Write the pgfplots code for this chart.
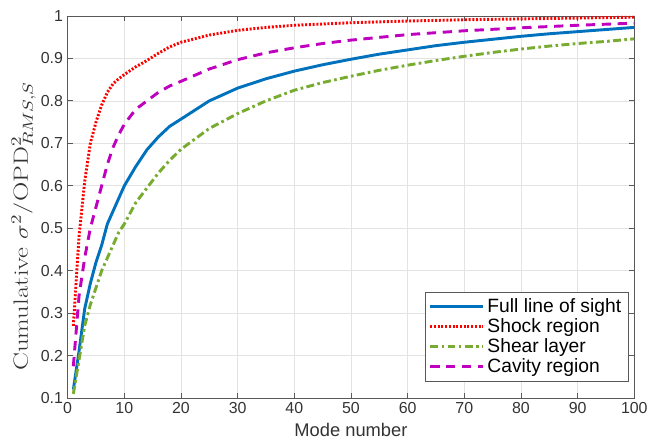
\documentclass[border=0pt]{standalone}
\usepackage{pgfplots}
\pgfplotsset{compat=1.18}
\usepackage{fontspec}
\setmainfont{Liberation Sans}
\newfontfamily\lmserif{Latin Modern Roman}

\definecolor{mblue}{RGB}{0,114,189}
\definecolor{mred}{RGB}{255,0,0}
\definecolor{mgreen}{RGB}{119,172,48}
\definecolor{mmag}{RGB}{191,0,191}

\begin{document}
\begin{tikzpicture}
\begin{axis}[
    scale only axis,
    width=427pt, height=288pt,
    xmin=0, xmax=100, ymin=0.1, ymax=1,
    xtick={0,10,...,100},
    ytick={0.1,0.2,...,1.0},
    yticklabels={0.1,0.2,0.3,0.4,0.5,0.6,0.7,0.8,0.9,1},
    grid=major,
    major grid style={line width=.5pt, draw=gray!22},
    axis line style={draw=black!65, line width=0.6pt},
    tick style={draw=black!65, line width=0.6pt},
    tick align=inside,
    major tick length=4pt,
    /pgf/number format/assume math mode=true,
    tick label style={text=black!80, font=\fontsize{12}{14}\selectfont},
    xlabel={Mode number},
    ylabel={\scalebox{1.3}[1.0]{\lmserif Cumulative $\sigma^2/$OPD$^2_{RMS,S}$}},
    xlabel style={text=black!80, font=\fontsize{13.8}{16}\selectfont, yshift=0pt},
    ylabel style={at={(ticklabel cs:0.45)}, font=\fontsize{15.5}{17}\selectfont, yshift=-3pt, text=black!80},
    legend style={at={(0.989,0.044)}, anchor=south east, draw=black!65,
        font=\fontsize{14.5}{16}\selectfont, row sep=-1pt, inner sep=3pt},
    legend cell align=left,
    legend image code/.code={\draw[#1] (0pt,0pt) -- (40pt,0pt);},
]
\addplot[mblue, line width=2.2pt] coordinates {
 (1,0.12) (2,0.21) (3,0.31) (4,0.37) (5,0.42) (6,0.46) (7,0.51) (8,0.54) (9,0.57) (10,0.60)
 (12,0.645) (14,0.685) (16,0.715) (18,0.74) (20,0.757) (25,0.80) (30,0.83) (35,0.852)
 (40,0.87) (45,0.885) (50,0.898) (55,0.91) (60,0.92) (65,0.93) (70,0.938) (75,0.945)
 (80,0.952) (85,0.958) (90,0.963) (95,0.968) (100,0.973)
};
\addlegendentry{Full line of sight}
\addplot[mred, line width=2.2pt, dash pattern=on 1.5pt off 1.3pt] coordinates {
 (1,0.27) (2,0.48) (3,0.61) (4,0.70) (5,0.75) (6,0.79) (7,0.82) (8,0.84) (9,0.852) (10,0.862)
 (12,0.88) (14,0.895) (16,0.912) (18,0.927) (20,0.938) (25,0.955) (30,0.966) (35,0.973)
 (40,0.978) (50,0.984) (60,0.988) (70,0.991) (80,0.993) (90,0.995) (100,0.997)
};
\addlegendentry{Shock region}
\addplot[mgreen, line width=2.2pt, dash pattern=on 6pt off 2.5pt on 2pt off 2.5pt] coordinates {
 (1,0.11) (2,0.19) (3,0.27) (4,0.32) (5,0.36) (6,0.40) (7,0.43) (8,0.46) (9,0.49) (10,0.51)
 (12,0.56) (14,0.595) (16,0.63) (18,0.66) (20,0.686) (25,0.735) (30,0.77) (35,0.80)
 (40,0.825) (45,0.843) (50,0.858) (55,0.872) (60,0.884) (65,0.895) (70,0.905) (75,0.914)
 (80,0.922) (85,0.929) (90,0.935) (95,0.94) (100,0.946)
};
\addlegendentry{Shear layer}
\addplot[mmag, line width=2.2pt, dash pattern=on 7pt off 5pt] coordinates {
 (1,0.175) (2,0.34) (3,0.43) (4,0.50) (5,0.55) (6,0.60) (7,0.65) (8,0.69) (9,0.72) (10,0.745)
 (12,0.78) (14,0.80) (16,0.82) (18,0.835) (20,0.846) (25,0.875) (30,0.897) (35,0.913)
 (40,0.925) (45,0.935) (50,0.943) (60,0.956) (70,0.965) (80,0.972) (90,0.978) (100,0.983)
};
\addlegendentry{Cavity region}
\end{axis}
\path ([xshift=-51pt,yshift=-36.5pt]current axis.south west);
\path ([xshift=10.5pt,yshift=12pt]current axis.north east);
\end{tikzpicture}
\end{document}
